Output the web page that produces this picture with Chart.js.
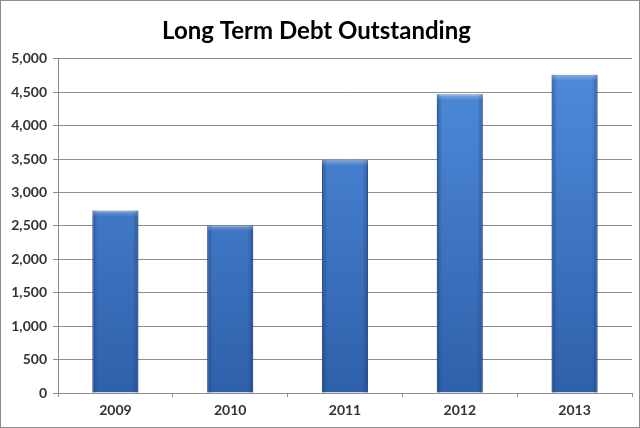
<!DOCTYPE html>
<html>
<head>
<meta charset="utf-8">
<script src="https://cdn.jsdelivr.net/npm/chart.js@4/dist/chart.umd.min.js"></script>
<style>
  html, body { margin: 0; padding: 0; background: #fff; }
  #wrap { width: 640px; height: 428px; box-sizing: border-box; border: 1px solid #8c8c8c; }
  canvas { display: block; }
</style>
</head>
<body>
<div id="wrap"><canvas id="debtChart" width="638" height="426"></canvas></div>
<script>
const years = ['2009', '2010', '2011', '2012', '2013'];
const debt = [2730, 2510, 3490, 4470, 4760];
const yTicks = [0, 500, 1000, 1500, 2000, 2500, 3000, 3500, 4000, 4500, 5000];

const FONT = "Lato, 'Open Sans', sans-serif";

function barFill(ctx) {
  const area = ctx.chart.chartArea;
  if (!area) return '#3f78c8';
  const g = ctx.chart.ctx.createLinearGradient(0, area.top, 0, area.bottom);
  g.addColorStop(0, '#4f8cdc');
  g.addColorStop(1, '#2f60aa');
  return g;
}

// darker side edges like the bevelled bars in the original
const bevel = {
  id: 'bevel',
  afterDatasetsDraw(chart) {
    const c = chart.ctx;
    chart.getDatasetMeta(0).data.forEach((bar) => {
      const left = bar.x - bar.width / 2;
      const w = bar.width;
      const h = bar.base - bar.y;
      const g = c.createLinearGradient(left, 0, left + w, 0);
      g.addColorStop(0, 'rgba(20,50,110,0.45)');
      g.addColorStop(0.12, 'rgba(20,50,110,0)');
      g.addColorStop(0.88, 'rgba(20,50,110,0)');
      g.addColorStop(1, 'rgba(20,50,110,0.45)');
      c.save();
      c.fillStyle = g;
      c.fillRect(left, bar.y, w, h);
      const t = c.createLinearGradient(0, bar.y, 0, bar.y + 6);
      t.addColorStop(0, 'rgba(255,255,255,0.3)');
      t.addColorStop(1, 'rgba(255,255,255,0)');
      c.fillStyle = t;
      c.fillRect(left, bar.y, w, 6);
      c.restore();
    });
  },
};

new Chart(document.getElementById('debtChart'), {
  type: 'bar',
  data: {
    labels: years,
    datasets: [
      {
        label: 'Long Term Debt Outstanding',
        data: debt,
        backgroundColor: barFill,
        borderColor: '#2b5595',
        borderWidth: 1,
        barPercentage: 0.8,
        categoryPercentage: 0.5,
      },
    ],
  },
  options: {
    responsive: false,
    animation: false,
    layout: { padding: { left: 0, right: 7, top: 0, bottom: 0 } },
    plugins: {
      legend: { display: false },
      tooltip: { enabled: false },
      title: {
        display: true,
        text: 'Long Term Debt Outstanding',
        color: '#000',
        font: { family: FONT, size: 24, weight: 'bold' },
        padding: { top: 16, bottom: 13 },
      },
    },
    scales: {
      x: {
        grid: { drawOnChartArea: false, color: '#8c8c8c', tickLength: 4, offset: true },
        border: { color: '#8c8c8c' },
        ticks: { color: '#333', font: { family: FONT, size: 14, weight: 'bold' }, padding: 5 },
        afterFit: (s) => { s.height = 34; },
      },
      y: {
        min: 0,
        max: 5000,
        afterBuildTicks: (s) => { s.ticks = yTicks.map((v) => ({ value: v })); },
        grid: { color: '#8c8c8c', tickLength: 5 },
        border: { color: '#8c8c8c' },
        ticks: {
          color: '#333',
          font: { family: FONT, size: 14, weight: 'bold' },
          padding: 6,
          callback: (v) => v.toLocaleString('en-US'),
        },
        afterFit: (s) => { s.width = 57; },
      },
    },
  },
  plugins: [bevel],
});
</script>
</body>
</html>
